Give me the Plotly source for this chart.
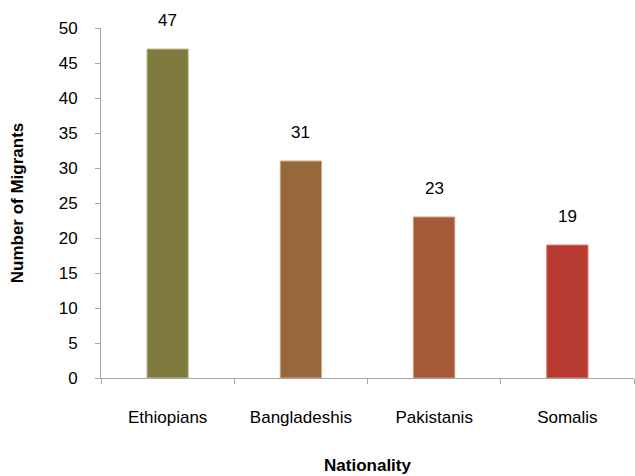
import plotly.graph_objects as go

nationalities = ["Ethiopians", "Bangladeshis", "Pakistanis", "Somalis"]
migrants = [47, 31, 23, 19]
bar_colors = ["#7f7a3e", "#96683b", "#a55937", "#b83b31"]
edge_colors = ["#c9c08e", "#d0a880", "#d4987c", "#e08070"]

FONT = "Liberation Sans, Arial, sans-serif"

fig = go.Figure(
    go.Bar(
        x=nationalities,
        y=migrants,
        marker=dict(color=bar_colors, line=dict(color=edge_colors, width=1)),
        cliponaxis=False,
    )
)

for cat, val in zip(nationalities, migrants):
    fig.add_annotation(
        x=cat, y=val, text=str(val), showarrow=False,
        yanchor="bottom", yshift=17,
        font=dict(family=FONT, size=17, color="#000000"),
    )

fig.update_layout(
    width=635,
    height=476,
    margin=dict(l=101, r=1, t=28, b=98),
    plot_bgcolor="white",
    paper_bgcolor="white",
    bargap=0.69,
    showlegend=False,
    font=dict(family=FONT, size=17, color="#000000"),
)

fig.update_xaxes(
    showline=True,
    linecolor="#a6a6a6",
    linewidth=1,
    ticks="outside",
    tickson="boundaries",
    ticklen=5,
    tickcolor="#a6a6a6",
    showgrid=False,
    ticklabelstandoff=24,
    tickfont=dict(family=FONT, size=17),
    title=dict(text="<b>Nationality</b>", font=dict(family=FONT, size=17), standoff=32),
)

fig.update_yaxes(
    range=[0, 50],
    dtick=5,
    showline=True,
    linecolor="#a6a6a6",
    linewidth=1,
    ticks="outside",
    ticklen=5,
    tickcolor="#a6a6a6",
    showgrid=False,
    zeroline=False,
    ticklabelstandoff=14,
    tickfont=dict(family=FONT, size=17),
    title=dict(text="<b>Number of Migrants</b>", font=dict(family=FONT, size=17), standoff=30),
)

fig.write_html("out.html")
